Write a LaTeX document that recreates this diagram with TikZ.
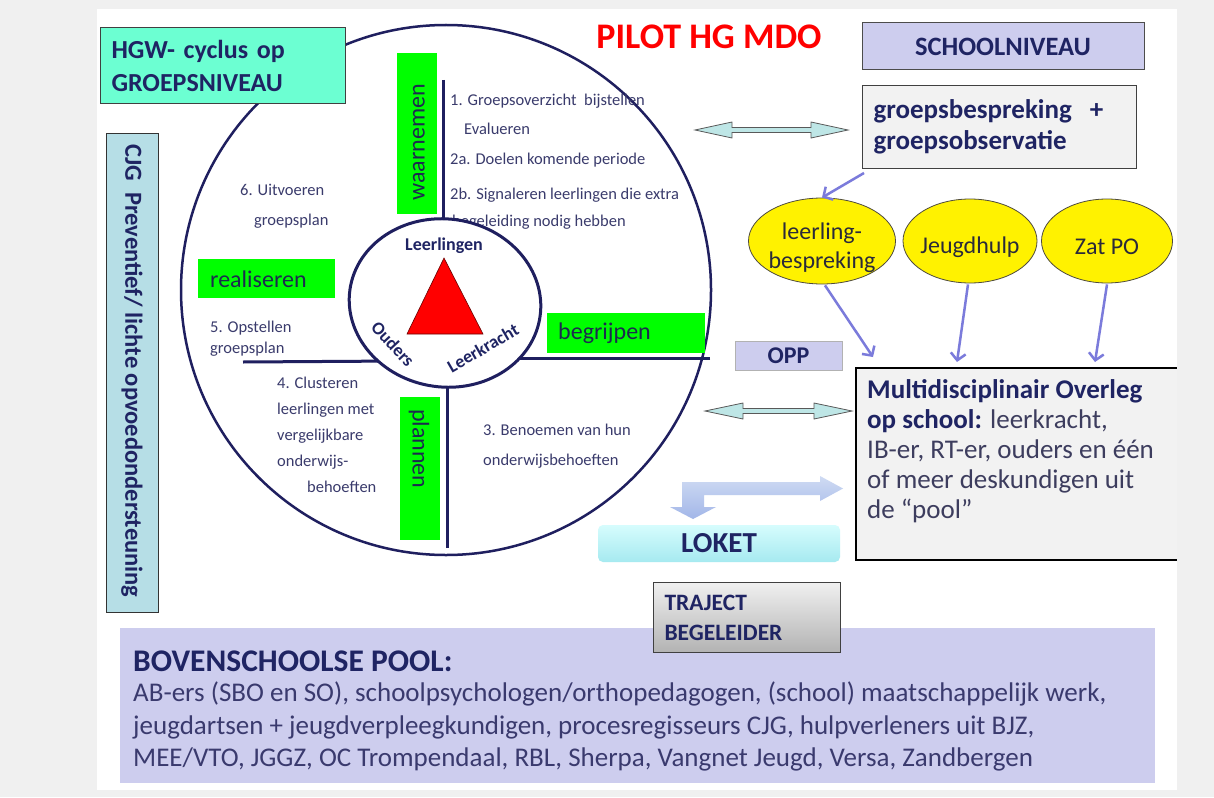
\documentclass[tikz,border=0pt]{standalone}
\usepackage{fontspec}
\setmainfont{Carlito}
\usetikzlibrary{shapes.geometric,arrows.meta,calc}
\definecolor{bggray}{HTML}{F0F0F0}
\definecolor{navy}{HTML}{1F1F5F}
\definecolor{hnavy}{HTML}{1F2463}
\definecolor{stept}{HTML}{3A3B6C}
\definecolor{lgreen}{HTML}{00FF00}
\definecolor{gtxt}{HTML}{1C2B4F}
\definecolor{hgwfill}{HTML}{6CFFD2}
\definecolor{cjgfill}{HTML}{B6DEE6}
\definecolor{lav}{HTML}{CDCDEE}
\definecolor{boxgray}{HTML}{F2F2F2}
\definecolor{arrblue}{HTML}{7B7BDB}
\definecolor{dacyan}{HTML}{BEE6E6}
\definecolor{regt}{HTML}{3D3D5E}
\definecolor{pooltxt}{HTML}{3A3A6E}
\definecolor{elltxt}{HTML}{2A2A3A}
\definecolor{bentA}{HTML}{CFDBF3}
\definecolor{bentB}{HTML}{A2B6E8}
\definecolor{lokA}{HTML}{D6FCFD}
\definecolor{lokB}{HTML}{A6EAF0}
\begin{document}
\begin{tikzpicture}[x=1pt,y=-1pt,
  steptxt/.style={anchor=west, inner sep=0, text=stept, text height=12, text depth=4, font=\fontsize{16.5}{20}\selectfont},
  greenbox/.style={fill=lgreen, inner sep=0, anchor=north west},
  gtext/.style={inner sep=0, text=gtxt, font=\fontsize{24}{27}\selectfont},
  cline/.style={draw=navy, line width=3},
  arr/.style={draw=arrblue, line width=2.5, -{Straight Barb[length=7,width=15]}},
  dbl/.style={draw=gray!70!black, fill=dacyan, line width=0.8, line join=miter},
  ell/.style={ellipse, draw=black!60!yellow!50!black, fill=yellow, line width=0.8, inner sep=0},
  elltext/.style={align=center, inner sep=0, text=elltxt, font=\fontsize{24}{29}\selectfont},
  title/.style={text=hnavy, font=\bfseries\fontsize{18}{20}\selectfont, inner sep=0}
]
\useasboundingbox (0,0) rectangle (1214,797);
\fill[bggray] (0,0) rectangle (1214,797);
\fill[white] (97,9) rectangle (1177,790);

% big circle
\node[circle, draw=navy, line width=2.5, minimum size=530, inner sep=0] (big) at (446,290) {};

% cross lines
\coordinate (tl) at (443,80);
\coordinate (bl) at (447,548);
\coordinate (ll) at (243,362);
\coordinate (rl) at (710,358);
\draw[cline] (tl) -- (443,260);
\draw[cline] (bl) -- (447,340);
\draw[cline] (ll) -- (400,361);
\draw[cline] (rl) -- (490,358);

% green boxes
\node[greenbox, minimum width=40, minimum height=161] (waar) at (397,53) {};
\node[gtext, rotate=90, anchor=west] (waart) at (419,201) {waarnemen};
\node[greenbox, minimum width=137, minimum height=39] (real) at (198,259) {};
\node[gtext, anchor=west] (realt) at (210,279) {realiseren};
\node[greenbox, minimum width=158, minimum height=40] (begr) at (547,313) {};
\node[gtext, anchor=west] (begrt) at (558,333) {begrijpen};
\node[greenbox, minimum width=40, minimum height=143] (plan) at (400,397) {};
\node[gtext, rotate=-90, anchor=west] (plant) at (419,409) {plannen};

% step texts
\node[steptxt] (s1) at (450,102) {1. Groepsoverzicht\ \ bijstellen};
\node[steptxt] (s1b) at (464,131) {Evalueren};
\node[steptxt] (s2a) at (450,160) {2a. Doelen komende periode};
\node[steptxt] (s2b) at (450,195) {2b. Signaleren leerlingen die extra};
\node[steptxt] (s2c) at (452,222) {begeleiding nodig hebben};
\node[steptxt] (s6) at (240,191) {6. Uitvoeren};
\node[steptxt] (s6b) at (254,221) {groepsplan};
\node[steptxt] (s5) at (210,328) {5. Opstellen};
\node[steptxt] (s5b) at (210,349) {groepsplan};
\node[steptxt] (s4) at (277,384) {4. Clusteren};
\node[steptxt] (s4b) at (277,410) {leerlingen met};
\node[steptxt] (s4c) at (277,436) {vergelijkbare};
\node[steptxt] (s4d) at (277,462) {onderwijs-};
\node[steptxt] (s4e) at (307,488) {behoeften};
\node[steptxt] (s3) at (483,431) {3. Benoemen van hun};
\node[steptxt] (s3b) at (483,461) {onderwijsbehoeften};

% inner ellipse with triangle
\node[ellipse, draw=navy, line width=3, fill=white, minimum width=192, minimum height=168, inner sep=0, rotate=-8] (inner) at (445,303) {};
\fill[red, draw=red!40!black, line width=0.6] (444,258) -- (483,334) -- (407,334) -- cycle;
\node[title] (lrl) at (444,246) {Leerlingen};
\node[title, rotate=-47] (oud) at (393,344) {Ouders};
\node[title, rotate=30] (lkr) at (483,348) {Leerkracht};

% HGW box
\node[draw=black!75, fill=hgwfill, line width=1, anchor=north west, minimum width=245, minimum height=76, inner xsep=11, inner ysep=0, text width=223, align=left, text=hnavy, font=\bfseries\fontsize{26}{33}\selectfont] (hgw) at (100,27) {HGW- cyclus op\\GROEPSNIVEAU};

% CJG box
\node[draw=black!80, fill=cjgfill, line width=1.2, anchor=north west, minimum width=52, minimum height=479, inner sep=0] (cjg) at (106,133) {};
\node[rotate=-90, anchor=west, inner sep=0, text=hnavy, font=\bfseries\fontsize{24.5}{28}\selectfont] (cjgt) at (132,144) {CJG\ \ Preventief/ lichte opvoedondersteuning};

% title
\node[text=red, inner sep=0, font=\bfseries\fontsize{36}{42}\selectfont] (pilot) at (709,37) {PILOT HG MDO};

% school level
\node[draw=gray!60!black, fill=lav, line width=1, minimum width=282, minimum height=47, inner sep=0, text=hnavy, font=\bfseries\fontsize{26.5}{30}\selectfont] (school) at (1003,46.5) {SCHOOLNIVEAU};
\node[draw=gray!50!black, fill=boxgray, line width=1, anchor=north west, minimum width=274, minimum height=83, inner xsep=11, inner ysep=0, text width=252, align=left, text=hnavy, font=\bfseries\fontsize{27}{31}\selectfont] (gb) at (862,85) {groepsbespreking\ \ +\\groepsobservatie};

% ellipses
\node[ell, minimum width=147, minimum height=86] (lb) at (822,241) {};
\node[elltext] (lbt) at (822,248) {leerling-\\bespreking};
\node[ell, minimum width=134, minimum height=84] (jh) at (970,241) {};
\node[elltext] (jht) at (970,247) {Jeugdhulp};
\node[ell, minimum width=131, minimum height=84] (zp) at (1107,241) {};
\node[elltext] (zpt) at (1107,247) {Zat PO};

% OPP
\node[draw=gray!60, fill=lav, line width=0.8, minimum width=107, minimum height=29, inner sep=0, text=hnavy, font=\bfseries\fontsize{24}{26}\selectfont] (opp) at (788.5,355.5) {OPP};

% MDO box
\node[draw=black, line width=1.5, fill=boxgray, anchor=north west, minimum width=335, minimum height=192, inner sep=0] (mdo) at (855,367) {};
\node[anchor=north west, align=left, inner sep=0, text=regt, font=\fontsize{27}{30}\selectfont] (mdot) at (867,379) {\textcolor{hnavy}{\bfseries Multidisciplinair Overleg}\\\textcolor{hnavy}{\bfseries op school:} leerkracht,\\IB-er, RT-er, ouders en één\\of meer deskundigen uit\\de “pool”};

% arrows
\draw[arr] ($(gb.south west)+(2,4)$) -- (lb.north);
\coordinate (e1) at ($(mdo.north west)+(18,-10)$);
\coordinate (e2) at ($(mdo.north west)+(102,-5)$);
\coordinate (e3) at ($(mdo.north west)+(240,-5)$);
\draw[arr] ($(lb.south)+(3,1)$) -- (e1);
\draw[arr] ($(jh.south)+(-2,1)$) -- (e2);
\draw[arr] ($(zp.south)+(0,1)$) -- (e3);

% double arrows
\coordinate (da1l) at (695,130);
\coordinate (da1r) at (848,130);
\draw[dbl] (da1l) -- ++(37,-8) -- ++(0,5.5) -- ($(da1r)+(-37,-2.5)$) -- ++(0,-5.5) -- (da1r) -- ++(-37,8) -- ++(0,-5.5) -- ($(da1l)+(37,2.5)$) -- ++(0,5.5) -- cycle;
\coordinate (da2l) at (705,411);
\coordinate (da2r) at (852,411);
\draw[dbl] (da2l) -- ++(38,-8) -- ++(0,5.5) -- ($(da2r)+(-38,-2.5)$) -- ++(0,-5.5) -- (da2r) -- ++(-38,8) -- ++(0,-5.5) -- ($(da2l)+(38,2.5)$) -- ++(0,5.5) -- cycle;

% bent arrow
\shade[top color=bentA, bottom color=bentB] (682,482) -- (820,482) -- (820,476) -- (843,488.5) -- (820,501) -- (820,495) -- (704,495) -- (704,507) -- (716,507) -- (693,519) -- (670,507) -- (682,507) -- cycle;

% LOKET
\node[rounded corners=5, top color=lokA, bottom color=lokB, minimum width=242, minimum height=37, inner sep=0, text=hnavy, font=\bfseries\fontsize{29}{34}\selectfont] (loket) at (719,543.5) {LOKET};

% pool
\node[fill=lav, anchor=north west, minimum width=1035, minimum height=155, inner sep=0] (pool) at (120,628) {};
\node[anchor=west, inner sep=0, text=hnavy, font=\bfseries\fontsize{31.5}{34}\selectfont] (poolh) at (133,661) {BOVENSCHOOLSE POOL:};
\node[anchor=west, inner sep=0, text=pooltxt, font=\fontsize{27}{30}\selectfont] (pool1) at (133,694) {AB-ers (SBO en SO), schoolpsychologen/orthopedagogen, (school) maatschappelijk werk,};
\node[anchor=west, inner sep=0, text=pooltxt, font=\fontsize{27}{30}\selectfont] (pool2) at (133,727) {jeugdartsen + jeugdverpleegkundigen, procesregisseurs CJG, hulpverleners uit BJZ,};
\node[anchor=west, inner sep=0, text=pooltxt, font=\fontsize{27}{30}\selectfont] (pool3) at (133,759) {MEE/VTO, JGGZ, OC Trompendaal, RBL, Sherpa, Vangnet Jeugd, Versa, Zandbergen};

% traject
\node[draw=black!75, line width=1, top color=gray!12, bottom color=gray!60, anchor=north west, minimum width=187, minimum height=70, inner xsep=11, inner ysep=0, text width=165, align=left, text=hnavy, font=\bfseries\fontsize{23.5}{30}\selectfont] (traj) at (653,582) {TRAJECT\\BEGELEIDER};

% right margin
\fill[bggray] (1177,0) rectangle (1214,797);
\end{tikzpicture}
\end{document}
